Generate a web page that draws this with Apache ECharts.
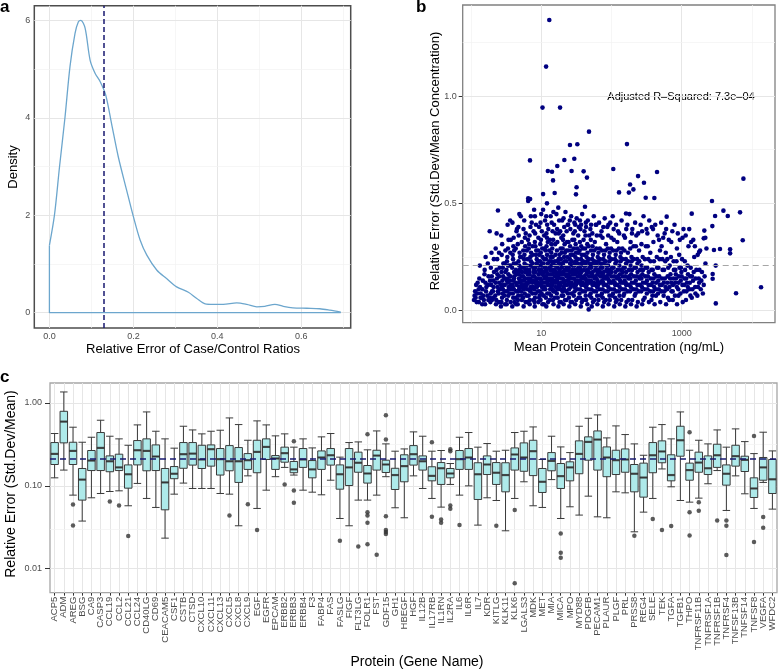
<!DOCTYPE html>
<html><head><meta charset="utf-8">
<script src="https://cdn.jsdelivr.net/npm/echarts@6/dist/echarts.min.js"></script>
<style>html,body{margin:0;padding:0;background:#fff}#c{width:778px;height:670px}</style>
</head><body><div id="c"></div>
<script>
// ---------- Panel a: density of relative error of case/control ratios ----------
const densityX = [0, 0.012, 0.024, 0.037, 0.049, 0.061, 0.069, 0.075, 0.085, 0.097, 0.109, 0.121, 0.134, 0.148, 0.164, 0.184, 0.2, 0.216, 0.232, 0.256, 0.279, 0.303, 0.331, 0.351, 0.371, 0.39, 0.414, 0.446, 0.47, 0.494, 0.513, 0.537, 0.557, 0.58, 0.613, 0.644, 0.668, 0.694];
const densityY = [1.38, 2.0, 2.99, 4.0, 5.05, 5.73, 5.97, 6.0, 5.84, 5.18, 4.91, 4.74, 4.47, 3.88, 3.2, 2.51, 1.97, 1.49, 1.18, 0.87, 0.70, 0.53, 0.42, 0.29, 0.18, 0.17, 0.17, 0.2, 0.17, 0.12, 0.13, 0.17, 0.13, 0.10, 0.09, 0.08, 0.05, 0.01];
const densityMeanLine = 0.134;
const ticksAX = [0, 0.2, 0.4, 0.6], minorAX = [0.1, 0.3, 0.5, 0.7];
const ticksAY = [0, 2, 4, 6], minorAY = [1, 3, 5];

// ---------- Panel b: relative error vs mean concentration ----------
const scatterBulk = [
[1.14,0.09],[1.1,0.05],[1.18,0.12],[1.12,0.07],[1.16,0.06],
[1.34,0.11],[1.29,0.04],[1.37,0.08],[1.31,0.15],[1.36,0.06],[1.28,0.1],[1.33,0.21],
[1.6,0.13],[1.52,0.05],[1.63,0.09],[1.55,0.17],[1.58,0.03],[1.65,0.11],[1.5,0.07],[1.61,0.25],[1.56,0.19],
[1.93,0.12],[1.85,0.06],[1.97,0.16],[1.88,0.04],[1.91,0.2],[1.99,0.09],[1.86,0.14],[1.95,0.27],[1.9,0.08],[1.84,0.37],[1.98,0.05],
[2.33,0.15],[2.21,0.07],[2.38,0.11],[2.26,0.03],[2.3,0.19],[2.4,0.09],[2.23,0.13],[2.35,0.24],[2.28,0.05],[2.24,0.29],[2.37,0.17],[2.31,0.36],
[2.79,0.14],[2.66,0.02],[2.84,0.1],[2.71,0.18],[2.76,0.06],[2.88,0.22],[2.68,0.12],[2.81,0.08],[2.73,0.26],[2.86,0.16],[2.7,0.04],[2.77,0.31],[2.83,0.2],[2.69,0.35],[2.74,0.11],
[3.33,0.13],[3.21,0.03],[3.4,0.17],[3.26,0.09],[3.36,0.21],[3.23,0.05],[3.3,0.15],[3.43,0.11],[3.28,0.25],[3.38,0.07],[3.19,0.19],[3.35,0.29],[3.25,0.14],[3.41,0.33],[3.31,0.4],[3.45,0.1],[3.24,0.23],
[4.02,0.14],[3.86,0.02],[4.1,0.18],[3.94,0.08],[4.05,0.22],[3.89,0.12],[3.98,0.06],[4.13,0.16],[3.91,0.26],[4.07,0.1],[3.84,0.2],[4.0,0.3],[4.15,0.04],[3.96,0.24],[4.04,0.34],[3.88,0.41],[4.09,0.15],[3.93,0.11],[4.11,0.28],
[4.81,0.15],[4.61,0.03],[4.92,0.19],[4.69,0.07],[4.86,0.11],[4.74,0.23],[4.97,0.13],[4.64,0.05],[4.78,0.17],[4.9,0.27],[4.67,0.09],[4.84,0.21],[4.99,0.25],[4.62,0.31],[4.76,0.35],[4.94,0.14],[4.72,0.39],[4.87,0.45],[4.66,0.18],[4.83,0.1],
[5.72,0.14],[5.51,0.06],[5.86,0.18],[5.6,0.02],[5.78,0.22],[5.66,0.1],[5.93,0.12],[5.55,0.16],[5.8,0.08],[5.97,0.04],[5.63,0.2],[5.75,0.26],[5.89,0.3],[5.69,0.24],[5.83,0.34],[5.58,0.38],[5.92,0.15],[5.71,0.42],[5.99,0.19],[5.53,0.28],[5.87,0.11],
[6.91,0.15],[6.61,0.07],[7.04,0.11],[6.72,0.19],[6.83,0.03],[7.12,0.23],[6.66,0.13],[6.95,0.09],[6.77,0.17],[7.07,0.21],[6.87,0.05],[7.15,0.27],[6.7,0.31],[6.98,0.25],[6.8,0.35],[6.63,0.29],[7.01,0.39],[6.75,0.14],[7.1,0.44],[6.68,0.18],[6.93,0.52],[7.08,0.1],
[8.27,0.18],[7.92,0.1],[8.44,0.14],[8.06,0.02],[8.58,0.22],[8.13,0.06],[8.36,0.26],[7.97,0.16],[8.51,0.12],[8.2,0.2],[8.02,0.04],[8.62,0.24],[8.31,0.08],[8.47,0.28],[8.09,0.32],[8.55,0.15],[8.17,0.36],[8.4,0.4],[7.95,0.19],[8.24,0.3],[8.65,0.11],[8.11,0.44],[8.33,0.13],
[9.93,0.19],[9.52,0.07],[10.21,0.11],[9.71,0.15],[10.36,0.03],[9.63,0.23],[10.07,0.13],[9.84,0.27],[10.28,0.17],[9.57,0.09],[10.14,0.21],[9.77,0.05],[10.4,0.25],[9.68,0.31],[10.02,0.14],[9.88,0.33],[10.17,0.37],[9.6,0.18],[10.32,0.29],[9.74,0.41],[9.97,0.45],[10.24,0.22],[9.81,0.12],[10.11,0.08],
[11.93,0.18],[11.42,0.1],[12.22,0.14],[11.63,0.06],[12.41,0.22],[11.78,0.02],[12.07,0.26],[11.51,0.16],[12.33,0.12],[11.86,0.3],[12.15,0.08],[11.56,0.2],[12.48,0.04],[11.71,0.24],[12.01,0.34],[11.45,0.28],[12.28,0.15],[11.82,0.36],[12.11,0.4],[11.67,0.19],[12.37,0.32],[11.97,0.13],[11.74,0.44],[12.05,0.5],[12.45,0.17],
[14.42,0.17],[13.82,0.07],[14.71,0.13],[14.08,0.21],[14.93,0.03],[13.95,0.11],[14.55,0.25],[14.21,0.15],[14.84,0.09],[13.88,0.19],[14.33,0.29],[14.64,0.05],[14.02,0.23],[14.77,0.33],[14.15,0.13],[13.86,0.27],[14.49,0.37],[14.27,0.14],[14.98,0.18],[14.05,0.41],[14.6,0.22],[13.91,0.31],[14.38,0.12],[14.86,0.46],[14.24,0.1],
[17.42,0.16],[16.62,0.08],[17.91,0.12],[17.08,0.2],[18.17,0.04],[16.84,0.14],[17.63,0.24],[17.21,0.1],[18.03,0.18],[16.71,0.28],[17.52,0.02],[17.87,0.22],[16.93,0.32],[17.31,0.13],[18.12,0.26],[16.66,0.17],[17.73,0.36],[17.15,0.06],[17.96,0.42],[17.46,0.48],[16.97,0.15],[18.2,0.19],[17.68,0.11],[17.04,0.23],[16.78,0.38],
[20.93,0.17],[20.03,0.09],[21.42,0.13],[20.48,0.21],[21.74,0.05],[20.21,0.15],[21.12,0.25],[20.66,0.11],[21.58,0.19],[20.11,0.29],[20.82,0.03],[21.33,0.23],[20.38,0.33],[21.05,0.14],[21.67,0.27],[20.57,0.07],[21.21,0.39],[20.27,0.18],[21.49,0.31],[20.74,0.43],[20.16,0.22],[21.8,0.12],[20.52,0.35],[21.27,0.1],
[25.2,0.16],[24.03,0.08],[25.81,0.12],[24.62,0.2],[26.21,0.04],[24.31,0.14],[25.52,0.24],[24.88,0.1],[26.02,0.18],[24.18,0.28],[25.08,0.02],[25.67,0.22],[24.47,0.32],[25.36,0.13],[26.14,0.26],[24.76,0.06],[25.93,0.38],[24.24,0.17],[25.45,0.42],[24.95,0.15],[24.55,0.19],[25.72,0.3],[26.25,0.11],[24.12,0.4],
[30.21,0.17],[29.02,0.07],[30.81,0.13],[29.62,0.21],[31.36,0.05],[29.3,0.15],[30.52,0.25],[29.84,0.11],[31.07,0.19],[29.16,0.29],[30.37,0.03],[30.93,0.23],[29.48,0.33],[30.66,0.14],[31.24,0.27],[29.73,0.09],[30.04,0.37],[29.41,0.18],[30.88,0.31],[29.58,0.41],[31.15,0.12],[29.95,0.22],[30.44,0.4],
[36.32,0.16],[35.03,0.08],[37.12,0.12],[35.61,0.2],[37.74,0.04],[35.28,0.14],[36.84,0.24],[35.92,0.1],[37.43,0.18],[35.17,0.28],[36.53,0.02],[37.21,0.22],[35.48,0.32],[36.71,0.13],[37.58,0.26],[35.76,0.06],[36.07,0.38],[35.38,0.17],[37.03,0.3],[35.55,0.42],[37.66,0.15],[36.18,0.19],[36.92,0.4],
[43.73,0.17],[42.03,0.09],[44.52,0.13],[42.78,0.21],[45.31,0.03],[42.41,0.15],[44.12,0.25],[43.22,0.11],[45.08,0.19],[42.21,0.29],[43.51,0.05],[44.81,0.23],[42.62,0.35],[43.92,0.14],[45.44,0.27],[42.95,0.07],[43.38,0.39],[44.63,0.18],[45.2,0.31],[43.06,0.41],[44.26,0.12],[42.48,0.22],
[52.52,0.16],[50.52,0.08],[53.61,0.12],[51.32,0.2],[54.42,0.04],[50.83,0.14],[53.08,0.24],[51.84,0.1],[54.13,0.18],[51.06,0.28],[52.27,0.02],[53.87,0.22],[50.67,0.33],[52.85,0.13],[54.28,0.26],[51.58,0.06],[53.34,0.36],[51.14,0.4],[52.63,0.17],[53.72,0.3],[50.61,0.21],
[63.22,0.17],[60.52,0.09],[64.41,0.13],[61.53,0.21],[65.32,0.05],[60.94,0.15],[63.67,0.25],[62.21,0.11],[64.92,0.19],[61.18,0.29],[62.83,0.03],[64.17,0.23],[61.84,0.35],[63.45,0.14],[65.11,0.27],[62.47,0.07],[60.78,0.4],[64.63,0.12],[62.96,0.18],[61.35,0.22],
[75.82,0.16],[73.03,0.08],[77.31,0.12],[74.12,0.2],[78.52,0.04],[73.53,0.14],[76.62,0.24],[74.83,0.1],[77.84,0.18],[73.31,0.28],[75.27,0.02],[76.98,0.22],[74.48,0.34],[76.14,0.13],[78.22,0.26],[75.01,0.06],[76.33,0.39],[77.55,0.15],[74.66,0.17],
[91.3,0.17],[88.1,0.09],[93.2,0.13],[89.4,0.21],[94.6,0.05],[88.7,0.15],[92.4,0.25],[90.1,0.11],[93.8,0.19],[88.4,0.29],[90.8,0.03],[92.9,0.23],[89.7,0.35],[91.9,0.14],[94.2,0.27],[90.4,0.4],[89.1,0.18],[93.5,0.07],
[110.2,0.16],[105.3,0.08],[112.8,0.12],[107.1,0.2],[115.2,0.04],[106.2,0.14],[111.9,0.24],[108.6,0.1],[114.1,0.18],[105.8,0.28],[109.4,0.02],[113.4,0.22],[107.8,0.33],[111.1,0.13],[114.7,0.26],[107.4,0.38],[112.4,0.06],
[132.3,0.17],[127.2,0.09],[135.2,0.13],[129.1,0.21],[137.3,0.05],[128.3,0.15],[133.8,0.25],[130.6,0.11],[136.1,0.19],[127.6,0.29],[131.2,0.03],[134.6,0.23],[128.7,0.36],[132.9,0.14],[136.7,0.27],[130.1,0.07],
[158.2,0.16],[152.3,0.08],[161.8,0.12],[154.6,0.2],[163.7,0.04],[153.4,0.14],[160.1,0.24],[156.3,0.1],[162.6,0.18],[152.8,0.28],[157.4,0.02],[161.1,0.22],[155.7,0.34],[159.3,0.13],[162.2,0.38],
[190.4,0.17],[184.2,0.09],[194.6,0.13],[186.5,0.21],[197.3,0.05],[185.3,0.15],[192.7,0.25],[188.1,0.11],[196.2,0.19],[184.8,0.29],[189.6,0.03],[193.4,0.23],[187.2,0.32],[195.5,0.36],
[229.3,0.16],[220.4,0.08],[233.6,0.12],[223.1,0.2],[237.2,0.04],[221.7,0.14],[231.8,0.24],[226.4,0.1],[235.1,0.18],[222.5,0.3],[227.9,0.02],[234.2,0.22],[225.6,0.35],
[275.1,0.17],[265.3,0.09],[280.2,0.13],[268.4,0.21],[283.6,0.05],[266.8,0.15],[277.9,0.25],[271.3,0.11],[281.4,0.19],[267.2,0.31],[273.5,0.03],[272.6,0.37],
[330.2,0.16],[318.4,0.08],[336.7,0.12],[322.3,0.2],[341.1,0.04],[320.2,0.14],[334.4,0.24],[326.1,0.1],[338.3,0.18],[324.2,0.36],[328.5,0.3],
[397.1,0.15],[382.5,0.07],[405.3,0.11],[387.4,0.19],[411.2,0.03],[385.3,0.13],[402.6,0.23],[392.1,0.09],[407.8,0.17],[390.4,0.38],[395.2,0.32],
[478.2,0.16],[460.4,0.08],[488.6,0.12],[466.3,0.2],[495.1,0.04],[463.7,0.14],[484.2,0.24],[472.4,0.1],[490.3,0.28],[475.6,0.33],
[575.3,0.15],[552.6,0.07],[588.2,0.11],[560.4,0.19],[598.7,0.03],[556.1,0.13],[583.4,0.23],[568.2,0.09],[592.5,0.27],[571.4,0.36],
[692.4,0.17],[665.3,0.05],[709.6,0.13],[674.1,0.21],[714.5,0.09],[669.8,0.11],[702.2,0.25],[684.3,0.15],[710.4,0.32],
[830.4,0.15],[800.2,0.07],[852.6,0.11],[811.3,0.19],[858.1,0.03],[806.4,0.13],[842.5,0.23],[823.8,0.17],[854.7,0.29],
[998.3,0.16],[960.2,0.08],[1024.6,0.12],[974.1,0.2],[1034.4,0.04],[968.3,0.14],[1012.2,0.24],[989.5,0.18],[1028.4,0.34],
[1190.2,0.13],[1150.4,0.05],[1228.6,0.17],[1168.3,0.09],[1248.7,0.3],[1160.5,0.15],[1210.2,0.21],[1220.3,0.11],
[1450.2,0.14],[1390.5,0.06],[1482.3,0.18],[1418.6,0.1],[1508.4,0.25],[1400.2,0.16],[1462.1,0.33],
[1750.3,0.15],[1670.2,0.07],[1788.4,0.19],[1708.6,0.11],[1690.1,0.26],[1772.5,0.13],
[2060.2,0.12],[2000.4,0.08],[2118.6,0.16],[2178.2,0.22]
];
const scatterBulkMid = [
[1.22,0.08],[1.24,0.13],[1.2,0.04],
[1.45,0.1],[1.43,0.06],[1.47,0.14],[1.44,0.03],
[1.74,0.12],[1.71,0.07],[1.77,0.16],[1.73,0.22],[1.76,0.05],
[2.09,0.11],[2.06,0.06],[2.12,0.18],[2.08,0.14],[2.11,0.24],[2.05,0.09],
[2.51,0.13],[2.47,0.08],[2.55,0.2],[2.49,0.04],[2.53,0.16],[2.5,0.27],[2.56,0.1],
[3.02,0.12],[2.97,0.07],[3.07,0.18],[3.0,0.22],[3.05,0.03],[2.99,0.15],[3.08,0.28],[3.03,0.09],
[3.63,0.16],[3.57,0.08],[3.69,0.12],[3.6,0.21],[3.66,0.04],[3.62,0.27],[3.71,0.1],[3.58,0.14],[3.68,0.33],
[4.37,0.13],[4.3,0.06],[4.44,0.17],[4.34,0.22],[4.41,0.09],[4.32,0.29],[4.46,0.12],[4.39,0.03],[4.35,0.19],[4.43,0.37],
[5.25,0.16],[5.17,0.09],[5.33,0.12],[5.21,0.2],[5.29,0.05],[5.19,0.25],[5.35,0.14],[5.27,0.32],[5.23,0.07],[5.31,0.18],[5.15,0.11],
[6.31,0.13],[6.21,0.07],[6.41,0.17],[6.26,0.21],[6.36,0.1],[6.23,0.28],[6.44,0.15],[6.33,0.04],[6.28,0.19],[6.38,0.24],[6.19,0.12],[6.46,0.33],
[7.59,0.14],[7.47,0.08],[7.71,0.18],[7.53,0.22],[7.65,0.11],[7.5,0.26],[7.74,0.05],[7.62,0.16],[7.56,0.3],[7.68,0.2],[7.45,0.13],[7.77,0.37],
[9.12,0.15],[8.98,0.09],[9.26,0.19],[9.05,0.23],[9.19,0.12],[9.01,0.28],[9.3,0.06],[9.15,0.17],[9.08,0.34],[9.23,0.21],[8.95,0.13],[9.33,0.26],[9.1,0.04],
[10.96,0.16],[10.8,0.1],[11.12,0.2],[10.88,0.13],[11.04,0.24],[10.84,0.07],[11.16,0.29],[10.92,0.18],[11.0,0.35],[11.08,0.11],[10.78,0.22],[11.2,0.15],[10.9,0.03],
[13.2,0.15],[13.0,0.08],[13.4,0.19],[13.1,0.23],[13.3,0.12],[12.95,0.28],[13.45,0.17],[13.15,0.05],[13.25,0.33],[13.05,0.2],[13.35,0.1],[13.5,0.25],[12.9,0.14],
[15.8,0.16],[15.55,0.09],[16.05,0.13],[15.7,0.21],[15.9,0.26],[15.6,0.06],[16.1,0.18],[15.75,0.31],[15.95,0.11],[15.65,0.23],[16.0,0.36],[15.85,0.14],[15.5,0.19],
[19.1,0.15],[18.8,0.1],[19.4,0.2],[18.95,0.24],[19.25,0.13],[18.85,0.29],[19.5,0.07],[19.05,0.17],[19.3,0.34],[19.15,0.22],[18.75,0.12],[19.45,0.27],[19.0,0.04],
[22.9,0.16],[22.5,0.09],[23.3,0.19],[22.7,0.23],[23.1,0.12],[22.6,0.28],[23.4,0.14],[22.8,0.05],[23.2,0.32],[23.0,0.2],[22.4,0.17],[23.5,0.25],[22.95,0.37],
[27.5,0.15],[27.0,0.08],[28.0,0.19],[27.2,0.23],[27.8,0.12],[27.1,0.28],[28.1,0.17],[27.4,0.04],[27.7,0.33],[27.6,0.21],[26.9,0.13],[28.2,0.26],
[33.1,0.16],[32.5,0.1],[33.7,0.2],[32.8,0.24],[33.4,0.13],[32.6,0.29],[33.9,0.06],[33.0,0.18],[33.5,0.35],[33.2,0.22],[32.4,0.14],[33.8,0.27],
[39.8,0.15],[39.1,0.09],[40.5,0.19],[39.4,0.23],[40.2,0.12],[39.2,0.29],[40.7,0.16],[39.6,0.05],[40.0,0.33],[40.4,0.21],[38.9,0.13],[40.8,0.26],
[47.9,0.16],[47.0,0.1],[48.8,0.2],[47.4,0.24],[48.4,0.13],[47.2,0.3],[49.0,0.07],[47.7,0.18],[48.2,0.35],[48.6,0.22],[46.8,0.14],
[57.5,0.15],[56.4,0.09],[58.6,0.19],[57.0,0.23],[58.0,0.12],[56.6,0.28],[58.9,0.16],[57.3,0.05],[57.8,0.32],[58.3,0.21],[56.2,0.13],
[69.2,0.16],[67.9,0.1],[70.5,0.2],[68.5,0.24],[69.8,0.13],[68.1,0.29],[70.8,0.07],[69.0,0.18],[69.5,0.35],[70.2,0.22],
[83.2,0.15],[81.6,0.09],[84.8,0.19],[82.3,0.23],[84.0,0.12],[81.9,0.28],[85.1,0.16],[83.0,0.05],[83.6,0.31],[84.5,0.21],
[100,0.16],[98,0.1],[102,0.2],[99,0.24],[101,0.13],[98.5,0.29],[102.5,0.07],[100.5,0.18],[99.5,0.34],
[120,0.15],[117.7,0.09],[122.3,0.19],[118.8,0.23],[121.2,0.12],[118.2,0.28],[122.8,0.16],[119.5,0.05],[120.8,0.32],
[145,0.16],[142,0.1],[148,0.2],[143.5,0.24],[146.5,0.13],[142.8,0.29],[148.5,0.07],[145.5,0.18],
[174,0.15],[170.5,0.09],[177.5,0.19],[172,0.23],[176,0.12],[171,0.27],[178,0.16],[174.5,0.05],
[209,0.16],[205,0.1],[213,0.2],[207,0.24],[211,0.13],[206,0.3],[214,0.07],
[251,0.15],[246,0.09],[256,0.19],[248.5,0.23],[253.5,0.12],[247,0.28],[257,0.16],
[302,0.16],[296,0.1],[308,0.2],[299,0.24],[305,0.13],[297,0.06],[309,0.3],
[363,0.15],[356,0.09],[370,0.19],[359,0.23],[367,0.12],[357,0.27],[371,0.05],
[437,0.16],[428,0.1],[446,0.2],[432,0.13],[442,0.25],[430,0.07],
[525,0.15],[515,0.09],[535,0.19],[520,0.12],[530,0.24],[517,0.3],
[631,0.16],[619,0.1],[643,0.2],[625,0.13],[637,0.06],[622,0.24],
[759,0.15],[744,0.09],[774,0.19],[751,0.12],[767,0.23],[747,0.05],
[912,0.16],[894,0.1],[930,0.2],[903,0.13],[921,0.26],[898,0.07],
[1096,0.15],[1075,0.09],[1117,0.19],[1085,0.12],[1107,0.23],
[1318,0.16],[1292,0.1],[1344,0.2],[1305,0.13],[1331,0.07],
[1585,0.15],[1554,0.11],[1616,0.19],[1570,0.08],
[1905,0.14],[1868,0.1],[1942,0.18]
];
const scatterUpper = [
[3.6,0.42],[4.5,0.38],[5.1,0.44],[6.0,0.36],[7.3,0.41],[7.9,0.47],[9.3,0.39],[10.6,0.47],[11.3,0.42],[12.6,0.38],[13.6,0.44],[15.2,0.4],[16.4,0.45],[18.6,0.37],[19.8,0.42],[22.1,0.46],[23.8,0.4],[26.6,0.44],[28.6,0.36],[31.9,0.43],[34.2,0.39],[38.2,0.45],[41.2,0.37],[46.0,0.42],[50.0,0.38],[55.9,0.44],[59.6,0.4],[66.5,0.41],[72.0,0.37],[80.0,0.43],[87.0,0.39],[96.0,0.41],[104,0.44],[116,0.4],[124,0.37],[139,0.42],[150,0.35],[168,0.4],[180,0.45],[198,0.38],[217,0.41],[240,0.36],[260,0.4],[286,0.44],[315,0.38],[345,0.42],[375,0.39],[420,0.4],[455,0.35],[510,0.41],[545,0.34],[600,0.38],[655,0.33],[735,0.37],[790,0.4],[880,0.36],[940,0.33],[1060,0.38],[1140,0.35],[1280,0.38],[1360,0.32],[1540,0.3],[1830,0.28],[2250,0.29]
];
const scatterExtreme = [
[13.0,1.354],[11.7,1.137],[10.4,0.946],[18.5,0.946],[47.8,0.834],[166,0.776],[25.6,0.772],[32.6,0.775],[6.9,0.700],[21.3,0.702],[29.5,0.708],[106,0.660],[445,0.646],[12.4,0.651],[14.2,0.647],[16.9,0.674],[27.0,0.651],[40.1,0.649],[44.7,0.620],[239,0.627],[7570,0.615],[290,0.596],[184,0.588],[205,0.565],[177,0.550],[128,0.551],[6.5,0.523],[6.5,0.511],[31.2,0.542],[31.8,0.575],[41.9,0.484],[408,0.525],[307,0.526],[2700,0.511],[3930,0.466],[6780,0.458],[2990,0.441],[4530,0.441],[14.7,0.607],[10.6,0.543],[15.5,0.548],[2.41,0.467],[161,0.453],[611,0.438],[1390,0.452],[7400,0.328],[13500,0.109],[5940,0.081],[3050,0.210],[4890,0.286],[4890,0.267],[2100,0.373],[2170,0.340],[3510,0.287],[3060,0.034],[2760,0.149],[2760,0.171],[2880,0.283],[2730,0.394],[1770,0.273],[2060,0.337],[47.3,0.006]
];
const refLineB = 0.21;
const rSquaredLabel = 'Adjusted R\u2013Squared: 7.3e\u201304';
const ticksBX = [10, 1000], minorBX = [1, 100, 10000];
const ticksBY = [0, 0.5, 1], minorBY = [0.25, 0.75, 1.25];

// ---------- Panel c: relative error per protein ----------
const proteins = ['ACP5','ADM','AREG','BSG','CA9','CASP3','CCL19','CCL2','CCL21','CCL24','CD40LG','CD69','CEACAM5','CSF1','CSTB','CTSD','CXCL10','CXCL11','CXCL13','CXCL5','CXCL8','CXCL9','EGF','EGFR','EPCAM','ERBB2','ERBB3','ERBB4','F3','FABP4','FAS','FASLG','FIGF','FLT3LG','FOLR1','FST','GDF15','GH1','HBEGF','HGF','IL12B','IL17RB','IL1RN','IL2RA','IL6','IL6R','IL7','KDR','KITLG','KLK11','KLK6','LGALS3','MDK','MET','MIA','MICA','MPO','MYD88','PDGFB','PECAM1','PLAUR','PLGF','PRL','PRSS8','REG4','SELE','TEK','TGFA','TGFB1','THPO','TNFRSF11B','TNFRSF1A','TNFRSF1B','TNFRSF4','TNFSF13B','TNFSF14','TNFSF8','VEGFA','WFDC2'];
const boxLow = [0.125,0.155,0.0773,0.0376,0.0718,0.0809,0.0855,0.0871,0.0575,0.107,0.0705,0.0549,0.0234,0.0794,0.108,0.093,0.093,0.093,0.0809,0.0794,0.033,0.132,0.0534,0.0887,0.129,0.167,0.135,0.0887,0.0839,0.078,0.117,0.0404,0.033,0.0673,0.0673,0.0773,0.129,0.0544,0.0412,0.132,0.093,0.0705,0.0554,0.104,0.0773,0.1,0.0336,0.0718,0.0666,0.0287,0.0705,0.112,0.0575,0.0549,0.119,0.0404,0.0559,0.0444,0.0751,0.0423,0.0412,0.0847,0.0824,0.0279,0.0482,0.0705,0.16,0.0974,0.0666,0.0636,0.0711,0.106,0.153,0.0505,0.132,0.0802,0.0534,0.11,0.0524];
const boxQ1 = [0.181,0.33,0.181,0.0673,0.153,0.153,0.148,0.153,0.0938,0.179,0.152,0.153,0.0514,0.122,0.163,0.178,0.162,0.173,0.135,0.152,0.11,0.158,0.144,0.208,0.158,0.193,0.144,0.167,0.125,0.158,0.178,0.0912,0.101,0.146,0.108,0.155,0.145,0.0904,0.112,0.178,0.155,0.115,0.104,0.125,0.158,0.158,0.0685,0.137,0.104,0.0847,0.155,0.15,0.133,0.0832,0.152,0.093,0.115,0.14,0.204,0.155,0.129,0.137,0.146,0.0847,0.0731,0.144,0.19,0.115,0.228,0.117,0.146,0.137,0.167,0.102,0.173,0.149,0.0724,0.117,0.0809];
const boxMed = [0.243,0.596,0.264,0.119,0.202,0.287,0.198,0.167,0.138,0.269,0.264,0.226,0.11,0.14,0.241,0.245,0.208,0.277,0.21,0.198,0.198,0.204,0.257,0.295,0.214,0.248,0.158,0.208,0.158,0.22,0.234,0.138,0.167,0.19,0.141,0.232,0.181,0.135,0.173,0.241,0.198,0.132,0.163,0.141,0.21,0.22,0.138,0.181,0.144,0.135,0.239,0.22,0.262,0.112,0.2,0.131,0.167,0.243,0.339,0.362,0.22,0.204,0.208,0.14,0.126,0.234,0.26,0.135,0.355,0.155,0.191,0.163,0.234,0.14,0.228,0.206,0.093,0.167,0.12];
const boxQ3 = [0.333,0.794,0.336,0.162,0.267,0.44,0.23,0.241,0.179,0.352,0.369,0.312,0.162,0.171,0.333,0.333,0.309,0.312,0.282,0.306,0.29,0.245,0.355,0.369,0.232,0.293,0.197,0.282,0.202,0.264,0.282,0.179,0.282,0.255,0.176,0.269,0.204,0.163,0.237,0.306,0.23,0.17,0.191,0.162,0.267,0.282,0.19,0.23,0.191,0.19,0.287,0.33,0.355,0.162,0.252,0.186,0.195,0.349,0.39,0.46,0.295,0.269,0.279,0.181,0.188,0.333,0.349,0.237,0.524,0.188,0.255,0.23,0.318,0.179,0.309,0.228,0.125,0.22,0.208];
const boxHigh = [0.428,1.358,0.51,0.336,0.386,0.619,0.397,0.369,0.309,0.544,0.78,0.456,0.369,0.285,0.524,0.473,0.424,0.456,0.469,0.66,0.549,0.355,0.608,0.544,0.401,0.424,0.293,0.369,0.287,0.39,0.428,0.222,0.333,0.339,0.272,0.46,0.321,0.262,0.279,0.448,0.397,0.262,0.267,0.186,0.386,0.44,0.293,0.324,0.262,0.269,0.44,0.456,0.514,0.208,0.397,0.295,0.252,0.524,0.654,0.718,0.379,0.529,0.416,0.321,0.234,0.51,0.549,0.369,0.78,0.269,0.355,0.321,0.473,0.293,0.487,0.342,0.245,0.444,0.264];
const outlierCats = ['AREG','AREG','CCL19','CCL2','CCL21','CXCL5','CXCL9','EGF','ERBB2','ERBB3','ERBB3','ERBB3','FASLG','FLT3LG','FOLR1','FOLR1','FOLR1','FOLR1','FOLR1','FST','GDF15','GDF15','GDF15','GDF15','GDF15','GDF15','IL17RB','IL17RB','IL1RN','IL1RN','IL2RA','IL2RA','IL2RA','IL2RA','IL6','KITLG','KLK6','KLK6','MICA','MICA','MICA','PRSS8','SELE','TEK','TGFA','THPO','THPO','THPO','TNFRSF11B','TNFRSF11B','TNFRSF1B','TNFRSF4','TNFRSF4','TNFRSF4','TNFSF8','TNFSF8','VEGFA','VEGFA'];
const outlierVals = [0.0596,0.0333,0.0648,0.058,0.0248,0.044,0.0602,0.0293,0.1039,0.3456,0.0879,0.0625,0.0218,0.0186,0.4196,0.0482,0.044,0.0359,0.0198,0.0148,0.7112,0.362,0.0431,0.0293,0.0277,0.0262,0.3362,0.0423,0.0393,0.0359,0.2768,0.2619,0.058,0.0529,0.0336,0.033,0.051,0.00666,0.0267,0.0156,0.0136,0.025,0.0397,0.0293,0.0327,0.4436,0.0482,0.0252,0.0636,0.05,0.0383,0.0383,0.033,0.0146,0.4007,0.021,0.042,0.0312];
const refLineC = 0.215;
const ticksCY = [0.01, 0.1, 1], minorCY = [0.0316, 0.316];

// ---------- build ----------
const FONT = '"Liberation Sans", Arial, Helvetica, sans-serif';
const MAJ = '#e6e6e6', MIN = '#f2f2f2';
function gl(key, vals, minor) {
  return vals.map(v => ({ [key]: v, lineStyle: { color: minor ? MIN : MAJ, width: minor ? 0.7 : 1, type: 'solid' } }));
}
function gridSeries(idx, lines) {
  return { type: 'line', xAxisIndex: idx, yAxisIndex: idx, data: [], silent: true, z: 1,
    markLine: { silent: true, z: 1, symbol: ['none', 'none'], label: { show: false }, animation: false, data: lines } };
}
const tickLbl = { fontSize: 9, color: '#4d4d4d', fontFamily: FONT };
const tickStyle = { lineStyle: { color: '#333', width: 1 } };

const curve = densityX.map((x, i) => [x, densityY[i]]);
const nD = densityX.length;
const edges = [[densityX[0], densityY[0]], [densityX[0], 0], [densityX[nD - 1], 0], [densityX[nD - 1], densityY[nD - 1]]];

const boxData = proteins.map((p, i) => [boxLow[i], boxQ1[i], boxMed[i], boxQ3[i], boxHigh[i]]);
const medData = proteins.map((p, i) => [p, boxMed[i]]);
const outData = outlierCats.map((c, i) => [c, outlierVals[i]]);

function txt(x, y, text, size, opts) {
  opts = opts || {};
  const el = { type: 'text', x: x, y: y, silent: true,
    style: { text: text, font: (opts.bold ? 'bold ' : '') + size + 'px ' + FONT, fill: '#000',
      align: opts.left ? 'left' : 'center', verticalAlign: 'middle' } };
  if (opts.rot) el.rotation = Math.PI / 2;
  return el;
}

const option = {
  animation: false,
  backgroundColor: '#fff',
  textStyle: { fontFamily: FONT },
  grid: [
    { left: 34.3, top: 5.7, width: 316.4, height: 322.3, show: true, borderColor: '#4d4d4d', borderWidth: 1.5, backgroundColor: '#fff', containLabel: false, outerBoundsMode: 'none' },
    { left: 462.7, top: 5, width: 312.3, height: 317.7, show: true, borderColor: '#808080', borderWidth: 1.3, backgroundColor: '#fff', containLabel: false, outerBoundsMode: 'none' },
    { left: 50, top: 383, width: 727, height: 209.7, show: true, borderColor: '#a6a6a6', borderWidth: 1.3, backgroundColor: '#fff', containLabel: false, outerBoundsMode: 'none' }
  ],
  xAxis: [
    { gridIndex: 0, type: 'value', min: -0.036, max: 0.7176, splitLine: { show: false }, axisLine: { show: false },
      axisTick: Object.assign({ show: true, customValues: ticksAX, length: 3 }, tickStyle),
      axisLabel: Object.assign({ customValues: ticksAX, formatter: v => v.toFixed(1), margin: 4 }, tickLbl) },
    { gridIndex: 1, type: 'log', logBase: 10, min: 0.759, max: 21330, splitLine: { show: false }, axisLine: { show: false },
      axisTick: Object.assign({ show: true, customValues: ticksBX, length: 4 }, tickStyle),
      axisLabel: Object.assign({ customValues: ticksBX, formatter: v => String(Math.round(v)), margin: 6 }, tickLbl) },
    { gridIndex: 2, type: 'category', data: proteins, boundaryGap: true, splitLine: { show: false }, axisLine: { show: false },
      axisTick: Object.assign({ show: true, alignWithLabel: true, interval: 0, length: 3 }, tickStyle),
      axisLabel: Object.assign({}, tickLbl, { interval: 0, rotate: 90, fontSize: 9.5, margin: 4 }) }
  ],
  yAxis: [
    { gridIndex: 0, type: 'value', min: -0.315, max: 6.3, splitLine: { show: false }, axisLine: { show: false },
      axisTick: Object.assign({ show: true, customValues: ticksAY, length: 3 }, tickStyle),
      axisLabel: Object.assign({ customValues: ticksAY, formatter: v => String(v), margin: 4 }, tickLbl) },
    { gridIndex: 1, type: 'value', min: -0.056, max: 1.424, splitLine: { show: false }, axisLine: { show: false },
      axisTick: Object.assign({ show: true, customValues: ticksBY, length: 4 }, tickStyle),
      axisLabel: Object.assign({ customValues: ticksBY, formatter: v => v.toFixed(1), margin: 6 }, tickLbl) },
    { gridIndex: 2, type: 'log', logBase: 10, min: 0.00514, max: 1.742, splitLine: { show: false }, axisLine: { show: false },
      axisTick: Object.assign({ show: true, customValues: ticksCY, length: 5 }, tickStyle),
      axisLabel: Object.assign({ customValues: ticksCY, formatter: v => v.toFixed(2), margin: 8 }, tickLbl) }
  ],
  series: [
    gridSeries(0, [].concat(gl('xAxis', ticksAX, false), gl('xAxis', minorAX, true), gl('yAxis', ticksAY, false), gl('yAxis', minorAY, true))),
    { type: 'line', xAxisIndex: 0, yAxisIndex: 0, data: curve, smooth: 0.3, showSymbol: false, silent: true, z: 3,
      lineStyle: { color: '#6CA6CD', width: 1.3 },
      markLine: { silent: true, symbol: ['none', 'none'], label: { show: false }, animation: false,
        data: [{ xAxis: densityMeanLine }], lineStyle: { color: '#191970', width: 1.5, type: [5, 3] } } },
    { type: 'line', xAxisIndex: 0, yAxisIndex: 0, data: edges, smooth: false, showSymbol: false, silent: true, z: 3,
      lineStyle: { color: '#6CA6CD', width: 1.3 } },

    gridSeries(1, [].concat(gl('xAxis', ticksBX, false), gl('xAxis', minorBX, true), gl('yAxis', ticksBY, false), gl('yAxis', minorBY, true))),
    { type: 'scatter', xAxisIndex: 1, yAxisIndex: 1, data: scatterBulk.concat(scatterBulkMid, scatterUpper, scatterExtreme), symbolSize: 4.6, silent: true, z: 3,
      itemStyle: { color: '#000080', opacity: 1 },
      markLine: { silent: true, symbol: ['none', 'none'], label: { show: false }, animation: false,
        data: [{ yAxis: refLineB }], lineStyle: { color: '#a6a6a6', width: 1.2, type: [6, 4] } } },

    gridSeries(2, [].concat(proteins.map(p => ({ xAxis: p, lineStyle: { color: MAJ, width: 1, type: 'solid' } })), gl('yAxis', ticksCY, false), gl('yAxis', minorCY, true))),
    { type: 'boxplot', xAxisIndex: 2, yAxisIndex: 2, data: boxData, boxWidth: [7.5, 7.5], silent: true, z: 3,
      itemStyle: { color: '#AEEAEA', borderColor: '#3a3a3a', borderWidth: 1 },
      markLine: { silent: true, symbol: ['none', 'none'], label: { show: false }, animation: false,
        data: [{ yAxis: refLineC }], lineStyle: { color: '#191970', width: 1.5, type: [6, 4] } } },
    { type: 'scatter', xAxisIndex: 2, yAxisIndex: 2, data: medData, symbol: 'rect', symbolSize: [7.5, 2.2], silent: true, z: 4,
      itemStyle: { color: '#333' } },
    { type: 'scatter', xAxisIndex: 2, yAxisIndex: 2, data: outData, symbolSize: 4.5, silent: true, z: 4,
      itemStyle: { color: '#333' } }
  ],
  graphic: [
    txt(0, 7.5, 'a', 17, { left: true, bold: true }),
    txt(416, 7.5, 'b', 17, { left: true, bold: true }),
    txt(0, 377.5, 'c', 17, { left: true, bold: true }),
    txt(193, 349, 'Relative Error of Case/Control Ratios', 13),
    txt(13, 167, 'Density', 13, { rot: true }),
    txt(619, 347, 'Mean Protein Concentration (ng/mL)', 13),
    txt(435, 161, 'Relative Error (Std.Dev/Mean Concentration)', 13, { rot: true }),
    txt(681, 97, rSquaredLabel, 11),
    txt(11, 484, 'Relative Error (Std.Dev/Mean)', 14, { rot: true }),
    txt(417, 662, 'Protein (Gene Name)', 14)
  ]
};
const chart = echarts.init(document.getElementById('c'), null, { renderer: 'canvas' });
chart.setOption(option);
</script>
</body></html>
